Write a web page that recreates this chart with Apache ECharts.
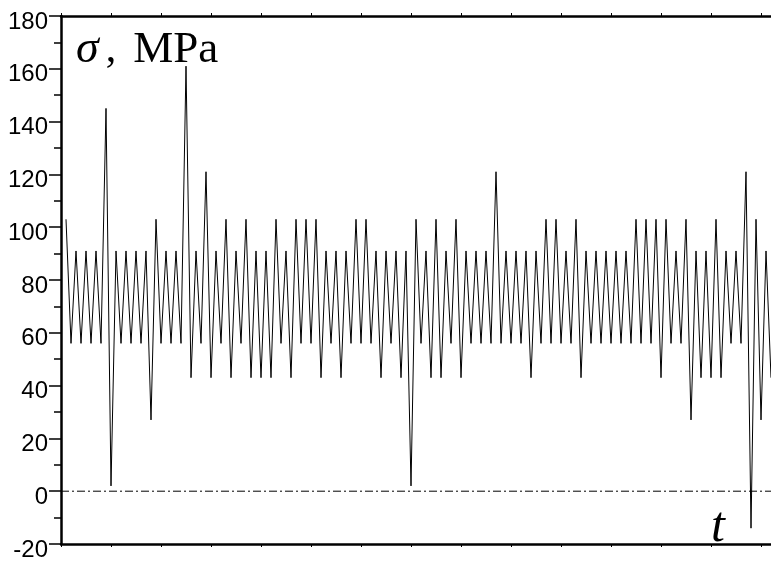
<!DOCTYPE html>
<html>
<head>
<meta charset="utf-8">
<script src="https://cdn.jsdelivr.net/npm/echarts@6/dist/echarts.min.js"></script>
<style>html,body{margin:0;padding:0;background:#fff;}#c{width:771px;height:562px;}</style>
</head>
<body>
<div id="c"></div>
<script>
// stress values (MPa), one per sample
const stressValues = [
  103, 56, 91, 56, 91, 56, 91, 56, 145, 2,
  91, 56, 91, 56, 91, 56, 91, 27, 103, 56,
  91, 56, 91, 56, 161, 43, 91, 56, 121, 43,
  91, 56, 103, 43, 91, 56, 103, 43, 91, 43,
  91, 43, 103, 56, 91, 43, 103, 56, 103, 56,
  103, 43, 91, 56, 91, 43, 91, 56, 103, 56,
  103, 56, 91, 43, 91, 56, 91, 43, 91, 2,
  103, 56, 91, 43, 103, 43, 91, 56, 103, 43,
  91, 56, 91, 56, 91, 56, 121, 56, 91, 56,
  91, 56, 91, 43, 91, 56, 103, 56, 103, 56,
  91, 56, 103, 43, 91, 56, 91, 56, 91, 56,
  91, 56, 91, 56, 103, 56, 103, 56, 103, 43,
  103, 56, 91, 56, 103, 27, 91, 43, 91, 43,
  103, 43, 91, 56, 91, 56, 121, -14, 103, 27,
  91, 43
];
const yTicks = [-20, 0, 20, 40, 60, 80, 100, 120, 140, 160, 180];
const yLabel = { symbol: 'σ', comma: ',', unit: 'MPa' };
const xLabel = 't';

const samples = stressValues.map((v, i) => [i + 1, v]);

const chart = echarts.init(document.getElementById('c'), null, { renderer: 'canvas' });
const xCommon = {
  type: 'value', min: 0, max: stressValues.length, interval: 10,
  axisLine: { show: true, onZero: false, lineStyle: { color: '#000', width: 2.5 } },
  axisTick: { show: true, inside: false, length: 3, lineStyle: { color: '#000', width: 1 } },
  axisLabel: { show: false },
  splitLine: { show: false }
};
chart.setOption({
  animation: false,
  backgroundColor: '#fff',
  grid: { left: 61, right: 0, top: 16, bottom: 12, containLabel: false },
  xAxis: [
    Object.assign({ position: 'bottom' }, xCommon),
    Object.assign({ position: 'top' }, xCommon)
  ],
  yAxis: {
    type: 'value', min: yTicks[0], max: yTicks[yTicks.length - 1], interval: 20,
    axisLine: { show: true, onZero: false, lineStyle: { color: '#000', width: 2.5 } },
    axisTick: { show: true, length: 12, lineStyle: { color: '#000', width: 1.5 } },
    minorTick: { show: true, splitNumber: 2, length: 7, lineStyle: { color: '#000', width: 1.5 } },
    axisLabel: {
      margin: 13, color: '#000', fontFamily: 'Liberation Sans', fontSize: 24,
      verticalAlign: 'top', lineHeight: 12
    },
    splitLine: { show: false }
  },
  series: [
    {
      type: 'line',
      data: samples,
      symbol: 'none',
      lineStyle: { color: '#000', width: 1 },
      z: 3
    },
    {
      type: 'line',
      data: [[0, 0], [stressValues.length, 0]],
      symbol: 'none',
      lineStyle: { color: '#000', width: 1, type: [8, 3, 2, 3] },
      z: 2
    }
  ],
  graphic: [
    {
      type: 'text', left: 76, top: 27,
      style: {
        text: '{s|' + yLabel.symbol + '}{c|' + yLabel.comma + '}{m|' + yLabel.unit + '}',
        rich: {
          s: { fontFamily: 'Liberation Serif', fontStyle: 'italic', fontSize: 46, fill: '#000' },
          c: { fontFamily: 'Liberation Serif', fontSize: 42, fill: '#000', padding: [0, 0, 0, 7] },
          m: { fontFamily: 'Liberation Serif', fontSize: 45, fill: '#000', padding: [0, 0, 0, 17] }
        }
      }
    },
    {
      type: 'text', left: 711, top: 503,
      style: { text: xLabel, fontFamily: 'Liberation Serif', fontStyle: 'italic', fontSize: 50, fill: '#000' }
    }
  ]
});
</script>
</body>
</html>
